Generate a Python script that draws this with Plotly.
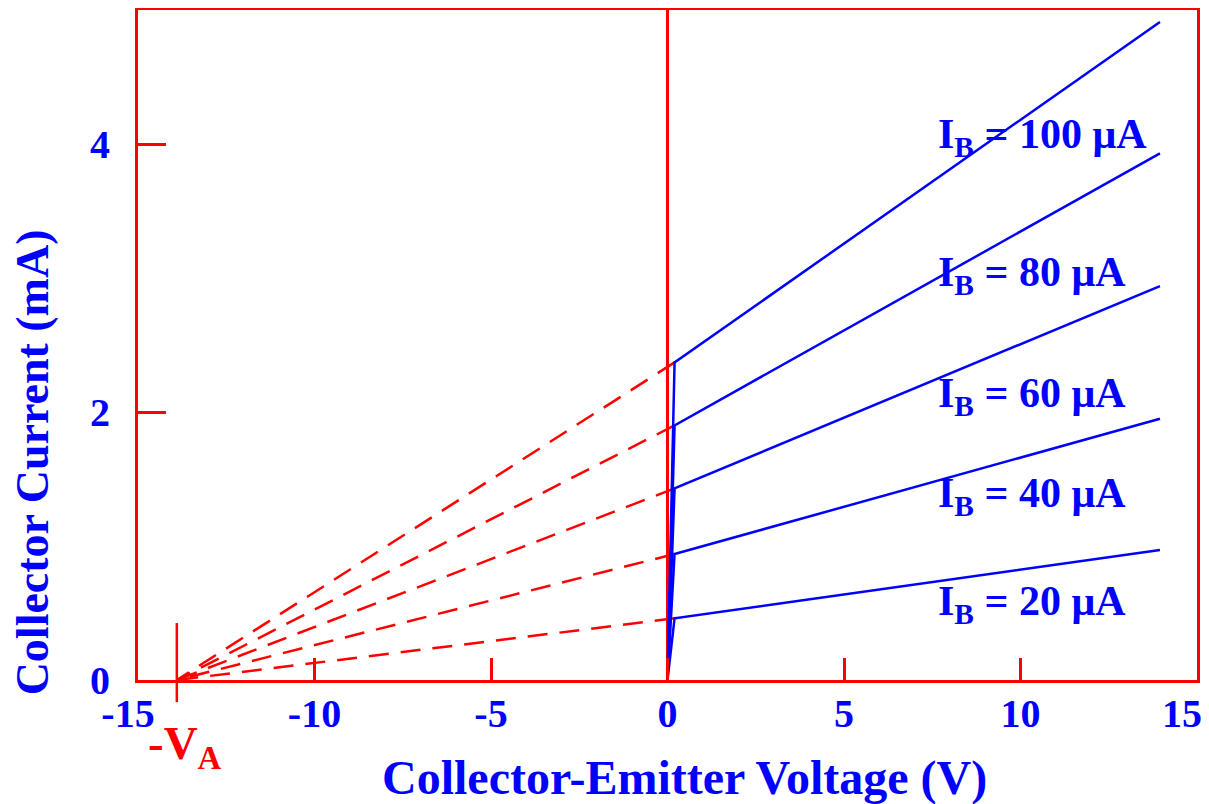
import plotly.graph_objects as go

# ---- data ----
ib_labels = ["I<sub>B</sub> = 20 μA", "I<sub>B</sub> = 40 μA", "I<sub>B</sub> = 60 μA",
             "I<sub>B</sub> = 80 μA", "I<sub>B</sub> = 100 μA"]
vce_knee = 0.2          # V, end of saturation region
vce_end = 13.95         # V, end of drawn curves
ic_knee = [0.46, 0.94, 1.43, 1.90, 2.37]   # mA at knee
ic_end = [0.97, 1.95, 2.94, 3.93, 4.91]    # mA at vce_end
early_voltage = 13.9    # V_A
label_x = [7.6, 7.6, 7.6, 7.6, 7.6]
label_y = [0.57, 1.37, 2.12, 3.02, 4.05]

x_tickvals = [-15, -10, -5, 0, 5, 10, 15]
x_ticktext = ["-15\u2002", "-10", "-5", "0", "5", "10", "15\u2002\u00a0"]
y_tickvals = [0, 2, 4]
y_ticktext = ["0", "2", "4"]

BLUE = "#0000FF"
RED = "#FF0000"
FONT = "Liberation Serif"

fig = go.Figure()

# extrapolation (dashed) lines to -V_A
for k in range(len(ic_knee)):
    fig.add_trace(go.Scatter(
        x=[vce_knee, -early_voltage], y=[ic_knee[k], 0],
        mode="lines", line=dict(color=RED, width=2.5, dash="20px,12px"),
        hoverinfo="skip", showlegend=False))

# characteristic curves
for k in range(len(ic_knee)):
    fig.add_trace(go.Scatter(
        x=[0, vce_knee, vce_end], y=[0, ic_knee[k], ic_end[k]],
        mode="lines", line=dict(color=BLUE, width=2.5),
        showlegend=False, name=ib_labels[k]))

annotations = []
for k in range(len(ib_labels)):
    annotations.append(dict(
        x=label_x[k], y=label_y[k], xref="x", yref="y", text=ib_labels[k],
        showarrow=False, xanchor="left", yanchor="middle",
        font=dict(family=FONT, size=42, color=BLUE, weight="bold")))

annotations += [
    dict(x=-0.1, y=0.325, xref="paper", yref="paper", text="Collector Current (mA)",
         textangle=-90, showarrow=False, xanchor="center", yanchor="middle",
         font=dict(family=FONT, size=46, color=BLUE, weight="bold")),
    dict(x=0.5156, y=-0.147, xref="paper", yref="paper", text="Collector-Emitter Voltage (V)",
         showarrow=False, xanchor="center", yanchor="middle",
         font=dict(family=FONT, size=48, color=BLUE, weight="bold")),
    dict(x=0.044, y=-0.099, xref="paper", yref="paper", text="-V<sub>A</sub>",
         showarrow=False, xanchor="center", yanchor="middle",
         font=dict(family=FONT, size=47, color=RED, weight="bold")),
]

fig.update_layout(
    width=1201, height=796,
    margin=dict(l=130, r=12, t=2, b=124, autoexpand=False),
    paper_bgcolor="white", plot_bgcolor="white",
    annotations=annotations,
    shapes=[dict(type="line", xref="x", yref="paper",
                 x0=-early_voltage, x1=-early_voltage, y0=-0.033, y1=0.085,
                 line=dict(color=RED, width=2.5))],
)

fig.update_xaxes(
    range=[-15, 15], tickvals=x_tickvals, ticktext=x_ticktext,
    showgrid=False, zeroline=True, zerolinecolor=RED, zerolinewidth=3,
    showline=True, mirror=True, linecolor=RED, linewidth=3,
    ticks="inside", ticklen=22, tickwidth=3, tickcolor=RED,
    ticklabelstandoff=-4, ticklabeloverflow="allow", automargin=False,
    tickfont=dict(family=FONT, size=40, color=BLUE, weight="bold"))

fig.update_yaxes(
    range=[0, 5.0], tickvals=y_tickvals, ticktext=y_ticktext,
    showgrid=False, zeroline=False,
    showline=True, mirror=True, linecolor=RED, linewidth=3,
    ticks="inside", ticklen=28, tickwidth=3, tickcolor=RED,
    ticklabelstandoff=17, automargin=False,
    tickfont=dict(family=FONT, size=40, color=BLUE, weight="bold"))

fig.write_html("out.html")
